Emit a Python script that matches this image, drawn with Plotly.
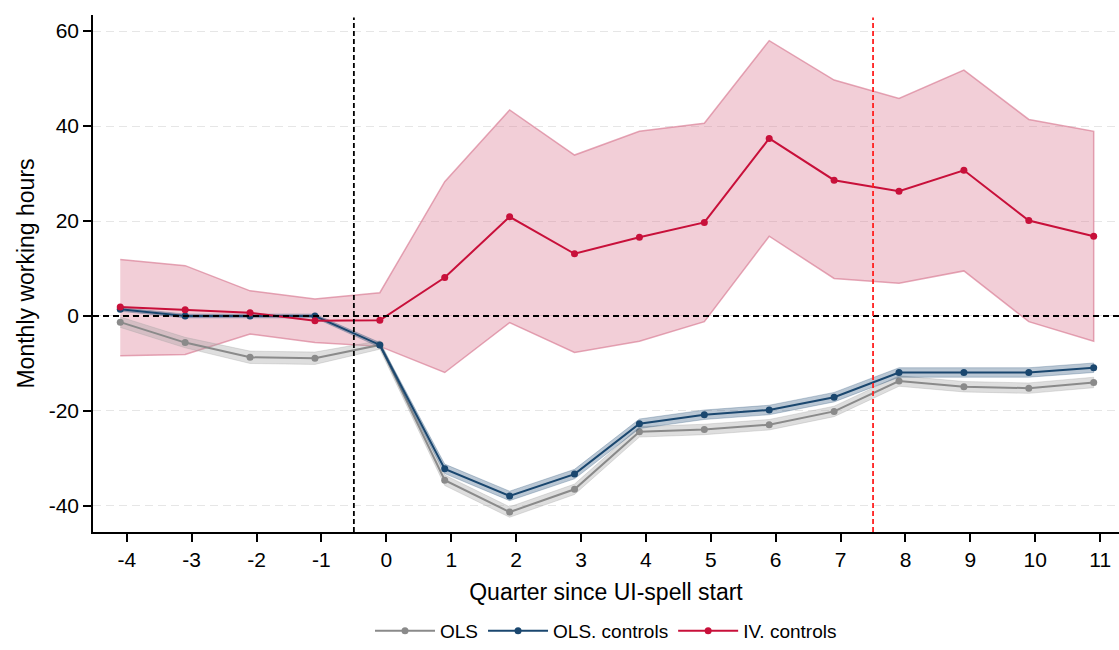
import plotly.graph_objects as go

# Quarters relative to the start of the UI spell
quarters = [-4, -3, -2, -1, 0, 1, 2, 3, 4, 5, 6, 7, 8, 9, 10, 11]
tick_labels = [str(q) for q in quarters]
y_ticks = [-40, -20, 0, 20, 40, 60]
y_tick_labels = [str(v) for v in y_ticks]

# OLS (no controls)
ols = [-1.3, -5.6, -8.7, -8.9, -6.1, -34.6, -41.3, -36.5, -24.4, -23.9, -22.9, -20.1, -13.7, -14.9, -15.2, -14.0]
ols_lo = [-2.4, -6.7, -10.0, -10.2, -7.0, -35.7, -42.4, -37.6, -25.5, -25.0, -24.0, -21.2, -14.8, -16.0, -16.3, -15.1]
ols_hi = [-0.2, -4.5, -7.4, -7.6, -5.2, -33.5, -40.2, -35.4, -23.3, -22.8, -21.8, -19.0, -12.6, -13.8, -14.1, -12.9]

# OLS with controls
ols_c = [1.4, 0.0, 0.0, 0.0, -6.1, -32.2, -37.9, -33.3, -22.7, -20.8, -19.8, -17.1, -11.9, -11.9, -11.9, -10.9]
ols_c_lo = [1.0, -0.4, -0.4, -0.4, -6.6, -33.2, -38.9, -34.3, -23.7, -21.8, -20.8, -18.1, -12.9, -12.9, -12.9, -11.9]
ols_c_hi = [1.8, 0.4, 0.4, 0.4, -5.6, -31.2, -36.9, -32.3, -21.7, -19.8, -18.8, -16.1, -10.9, -10.9, -10.9, -9.9]

# IV with controls
iv_c = [1.9, 1.3, 0.7, -1.0, -0.9, 8.1, 20.9, 13.1, 16.6, 19.7, 37.4, 28.6, 26.3, 30.7, 20.1, 16.8]
iv_c_lo = [-8.4, -8.1, -3.8, -5.6, -6.4, -11.9, -1.4, -7.7, -5.3, -1.2, 16.8, 7.9, 6.9, 9.5, -1.2, -5.3]
iv_c_hi = [11.9, 10.6, 5.3, 3.6, 4.9, 28.3, 43.4, 33.9, 38.9, 40.6, 58.0, 49.7, 45.8, 51.8, 41.4, 38.9]

# Markers sit slightly left of the integer ticks
x_shift = -0.1
xs = [q + x_shift for q in quarters]

FONT = "Liberation Sans, Arial, sans-serif"
RED = "#c8103a"
NAVY = "#1a476f"
GREY = "#8a8a8a"

fig = go.Figure()


def band(lo, hi, fill, edge, width):
    fig.add_trace(go.Scatter(
        x=xs + xs[::-1], y=hi + lo[::-1], mode="lines", fill="toself",
        fillcolor=fill, line=dict(color=edge, width=width),
        hoverinfo="skip", showlegend=False,
    ))


def series(y, color, name):
    fig.add_trace(go.Scatter(
        x=xs, y=y, mode="lines+markers", name=name,
        line=dict(color=color, width=2), marker=dict(color=color, size=7),
    ))


band(iv_c_lo, iv_c_hi, "rgba(220,120,145,0.36)", "rgba(215,120,145,0.65)", 1.5)
band(ols_lo, ols_hi, "rgba(160,160,160,0.35)", "rgba(160,160,160,0.3)", 1)
series(ols, GREY, "OLS")
band(ols_c_lo, ols_c_hi, "rgba(26,71,111,0.3)", "rgba(26,71,111,0.25)", 1)
series(ols_c, NAVY, "OLS. controls")
series(iv_c, RED, "IV. controls")

# Reference lines: zero effect, spell start and benefit exhaustion
fig.add_shape(type="line", xref="paper", yref="y", x0=0, x1=1, y0=0, y1=0,
              line=dict(color="black", width=1.8, dash="6px,4px"))
fig.add_shape(type="line", xref="x", yref="paper", x0=-0.5, x1=-0.5, y0=0, y1=0.995,
              line=dict(color="black", width=1.8, dash="5px,3px"))
fig.add_shape(type="line", xref="x", yref="paper", x0=7.5, x1=7.5, y0=0, y1=0.995,
              line=dict(color="#ff2020", width=1.8, dash="5px,3px"))

fig.update_layout(
    width=1119, height=650,
    margin=dict(l=93, r=0, t=15, b=118),
    paper_bgcolor="white", plot_bgcolor="white",
    font=dict(family=FONT, color="black", size=20),
    legend=dict(orientation="h", x=0.5, xanchor="center",
                yref="container", y=0.0, yanchor="bottom",
                font=dict(size=19), itemwidth=60, traceorder="normal"),
    xaxis=dict(
        range=[-4.52, 11.29], tickmode="array", tickvals=quarters, ticktext=tick_labels,
        ticks="outside", ticklen=8, tickwidth=1.5, tickcolor="black",
        showline=True, linecolor="black", linewidth=1.5, showgrid=False, zeroline=False,
        title=dict(text="Quarter since UI-spell start", font=dict(size=23), standoff=14),
        tickfont=dict(size=21),
    ),
    yaxis=dict(
        range=[-45.5, 63.4], tickmode="array", tickvals=y_ticks, ticktext=y_tick_labels,
        ticks="outside", ticklen=8, tickwidth=1.5, tickcolor="black",
        showline=True, linecolor="black", linewidth=1.5,
        showgrid=True, gridcolor="#e6e6e6", gridwidth=1.3, griddash="8px,5px", zeroline=False,
        title=dict(text="Monthly working hours", font=dict(size=23), standoff=8),
        tickfont=dict(size=21),
    ),
)

fig.write_html("out.html")
